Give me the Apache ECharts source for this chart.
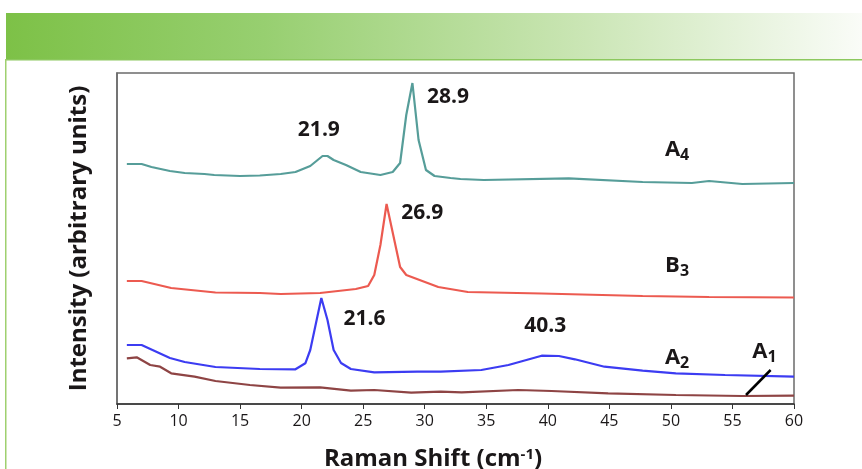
<!DOCTYPE html>
<html>
<head>
<meta charset="utf-8">
<script src="https://cdn.jsdelivr.net/npm/echarts@6/dist/echarts.min.js"></script>
<style>
  html, body { margin: 0; padding: 0; background: #fff; }
  #chart { width: 862px; height: 469px; }
</style>
</head>
<body>
<div id="chart"></div>
<script>
// Raman spectra, shift (cm-1) vs intensity (arbitrary units, offset stacks)
var a4 = [[5.8,240],[7.0,240],[7.8,237],[9.3,233],[10.5,231],[12.1,230],[12.9,229],[15.0,228],[16.6,228.5],
  [18.3,230],[19.5,232],[20.7,238],[21.3,244],[21.7,248],[22.1,248],[22.6,244],[23.6,239],[24.8,232],
  [26.4,229],[27.4,232],[28.0,241],[28.5,289],[29.0,321],[29.5,264],[30.1,234],[30.8,228],[32.1,226],
  [32.9,225],[34.8,224],[41.7,225.7],[47.7,222],[51.7,221],[53.1,223],[55.8,220],[60,221]];
var b3 = [[5.8,123],[7.0,123],[9.4,116],[13.0,111.5],[16.6,111],[18.3,110],[21.5,111],[24.4,115],[25.4,118],
  [25.9,129],[26.4,159],[26.9,200],[28.0,137],[28.5,129],[31.1,117],[33.5,112],[39.5,110.5],[47.7,108],
  [53.1,107],[60,106.5]];
var a2 = [[5.8,59],[7.0,59],[9.3,46],[10.5,42],[13.0,37],[16.6,35],[19.5,34.7],[20.3,40.7],[20.7,54],
  [21.6,106],[22.1,84],[22.6,54],[23.2,41],[24.0,35],[25.9,31.7],[29.4,32.3],[31.3,32.3],[34.6,34],
  [36.8,39],[39.5,48.3],[40.9,48],[42.2,44.7],[44.6,37.3],[47.7,33.3],[50.4,30.7],[54.4,29],[60,27.3]];
var a1 = [[5.8,45.7],[6.6,46.7],[7.7,39],[8.5,37.3],[9.4,30.7],[11.3,27.3],[13.0,23],[15.8,19],[18.3,16.3],
  [21.5,16.7],[24.0,13.3],[25.9,14],[28.9,11.3],[31.3,12.3],[33.0,11.7],[37.6,14],[40.3,13],[44.9,10.7],
  [50.4,9],[55.8,8],[60,8.3]];
var pointerA1 = [[58.1,34],[56.1,9]];
var annotations = [
  [31.9, 307, '28.9'], [21.4, 274, '21.9'], [29.8, 191, '26.9'], [25.1, 85, '21.6'], [39.8, 78, '40.3'],
  [50.5, 254, '{b|A}{s|4}'], [50.5, 138, '{b|B}{s|3}'], [50.5, 46, '{b|A}{s|2}'], [57.6, 52, '{b|A}{s|1}']
];

var font = 'Open Sans';
var ink = '#1a1718';
var chart = echarts.init(document.getElementById('chart'), null, { renderer: 'canvas' });

function spectrum(name, data, color) {
  return {
    name: name, type: 'line', data: data, showSymbol: false, silent: true,
    lineStyle: { color: color, width: 2.2 }, z: 3
  };
}

chart.setOption({
  animation: false,
  backgroundColor: '#fff',
  graphic: [
    { type: 'rect', shape: { x: 6, y: 13, width: 856, height: 46 }, style: {
      fill: new echarts.graphic.LinearGradient(0, 0, 1, 0, [
        { offset: 0, color: '#7dc147' }, { offset: 0.3, color: '#97cf70' },
        { offset: 0.65, color: '#c7e4b0' }, { offset: 1, color: '#fafcf8' }
      ]) } },
    { type: 'rect', shape: { x: 6, y: 59, width: 856, height: 1.5 }, style: { fill: '#8cc85e' } },
    { type: 'rect', shape: { x: 5, y: 59, width: 1.5, height: 410 }, style: { fill: '#9fd06f' } }
  ],
  grid: {
    left: 117, right: 68, top: 73, bottom: 65, outerBoundsMode: 'none', containLabel: false,
    show: true, borderColor: '#6b6b6b', borderWidth: 1.5
  },
  xAxis: {
    type: 'value', min: 5, max: 60, interval: 5,
    name: '{t|Raman Shift (cm}{sup|-1}{t|)}', nameLocation: 'middle', nameGap: 43,
    nameTextStyle: {
      padding: [0, 45, 0, 0],
      rich: {
        t: { fontFamily: font, fontWeight: 'bold', fontSize: 24, color: ink },
        sup: { fontFamily: font, fontWeight: 'bold', fontSize: 15, color: ink, verticalAlign: 'top', lineHeight: 14 }
      }
    },
    axisLine: { lineStyle: { color: '#333', width: 1.5 } },
    axisTick: { show: true, length: 5, lineStyle: { color: '#333' } },
    axisLabel: { fontFamily: font, fontSize: 16, color: ink, margin: 9 },
    splitLine: { show: false }
  },
  yAxis: {
    type: 'value', min: 0, max: 331,
    name: 'Intensity (arbitrary units)', nameLocation: 'middle', nameGap: 26,
    nameTextStyle: { fontFamily: font, fontWeight: 'bold', fontSize: 24, color: ink },
    axisLine: { show: true, lineStyle: { color: '#6b6b6b', width: 1.5 } },
    axisTick: { show: false }, axisLabel: { show: false }, splitLine: { show: false }
  },
  series: [
    spectrum('A4', a4, '#569d99'),
    spectrum('B3', b3, '#ec5a50'),
    spectrum('A2', a2, '#3c3cf2'),
    spectrum('A1', a1, '#8e4444'),
    { name: 'pointer', type: 'line', data: pointerA1, showSymbol: false, silent: true,
      lineStyle: { color: '#000', width: 2.5 }, z: 4 },
    { name: 'labels', type: 'scatter', data: annotations, symbolSize: 0, silent: true, z: 5,
      itemStyle: { opacity: 1 },
      label: {
        show: true, position: 'inside', opacity: 1, textBorderWidth: 0,
        formatter: function(p) { return p.value[2]; },
        fontFamily: font, fontWeight: 'bold', fontSize: 21, color: ink,
        rich: {
          b: { fontFamily: font, fontWeight: 'bold', fontSize: 22, color: ink, lineHeight: 24 },
          s: { fontFamily: font, fontWeight: 'bold', fontSize: 16, color: ink, verticalAlign: 'bottom', padding: [10, 0, 0, 0] }
        }
      }
    }
  ]
});
window.addEventListener('resize', function() { chart.resize(); });
</script>
</body>
</html>
